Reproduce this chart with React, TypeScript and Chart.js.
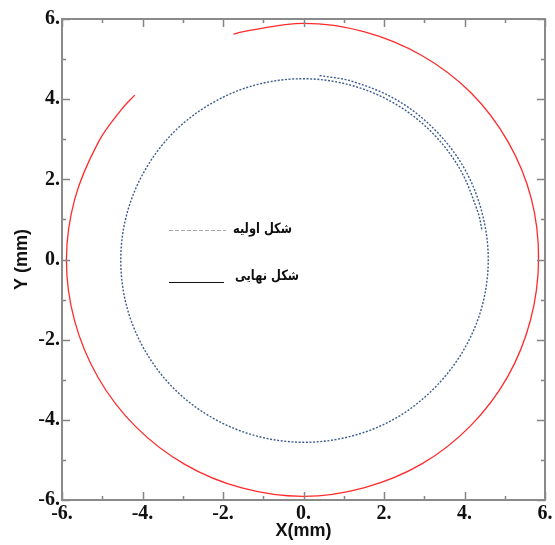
import { useEffect, useRef } from "react";
import { Chart, registerables } from "chart.js";

Chart.register(...registerables);

// Final shape (red, solid)
const finalX = [-4.19, -4.50, -5.09, -5.68, -5.89, -5.69, -5.10, -4.17, -2.95, -1.53, 0, 1.52, 2.94, 4.15, 5.07, 5.64, 5.84, 5.66, 5.08, 4.16, 2.94, 1.52, 0, -1.52, -1.74];
const finalY = [4.10, 3.77, 2.94, 1.52, 0, -1.52, -2.95, -4.17, -5.11, -5.70, -5.91, -5.69, -5.10, -4.15, -2.93, -1.51, 0, 1.52, 2.94, 4.16, 5.09, 5.68, 5.89, 5.68, 5.62];

// Initial shape (blue, dotted spiral)
const initX = [0.40, 1.19, 2.30, 3.25, 3.98, 4.43, 4.59, 4.43, 3.96, 3.23, 2.29, 1.18, 0, -1.18, -2.28, -3.22, -3.94, -4.39, -4.54, -4.38, -3.92, -3.20, -2.26, -1.17, 0, 1.17, 2.25, 3.18, 3.89, 4.34, 4.43];
const initY = [4.59, 4.45, 3.99, 3.25, 2.30, 1.19, 0, -1.19, -2.29, -3.23, -3.96, -4.41, -4.56, -4.40, -3.94, -3.22, -2.27, -1.18, 0, 1.17, 2.26, 3.20, 3.91, 4.36, 4.51, 4.35, 3.90, 3.18, 2.25, 1.16, 0.75];

const axisMin = -6;
const axisMax = 6;
const majorEvery = 2;
const legendLabels = ["شکل اولیه", "شکل نهایی"];
const xTitle = "X(mm)";
const yTitle = "Y (mm)";

const tickFont = { family: "'Liberation Serif', 'DejaVu Serif', serif", size: 20, weight: "bold" as const };
const tickLabel = (v: number | string) => {
  const n = Number(v);
  return n % majorEvery === 0 ? `${n}.` : "";
};

function fitText(ctx: CanvasRenderingContext2D, text: string, right: number, y: number, width: number) {
  const w = ctx.measureText(text).width;
  const k = Math.min(1, width / w);
  ctx.save();
  ctx.translate(right, y);
  ctx.scale(k, 1);
  ctx.fillText(text, 0, 0);
  ctx.restore();
}

const framePlugin = {
  id: "frame",
  afterDraw(chart: any) {
    const { ctx, chartArea: a, scales } = chart;
    const xs = scales.x;
    const ys = scales.y;
    ctx.save();
    // tick marks, pointing inward on all four sides
    ctx.strokeStyle = "#858585";
    ctx.lineWidth = 1.5;
    xs.ticks.forEach((t: any) => {
      const px = Math.round(xs.getPixelForValue(t.value)) + 0.5;
      const len = t.value % majorEvery === 0 ? 8 : 4;
      ctx.beginPath();
      ctx.moveTo(px, a.bottom);
      ctx.lineTo(px, a.bottom - len);
      ctx.moveTo(px, a.top);
      ctx.lineTo(px, a.top + len);
      ctx.stroke();
    });
    ys.ticks.forEach((t: any) => {
      const py = Math.round(ys.getPixelForValue(t.value)) + 0.5;
      const len = t.value % majorEvery === 0 ? 8 : 4;
      ctx.beginPath();
      ctx.moveTo(a.left, py);
      ctx.lineTo(a.left + len, py);
      ctx.moveTo(a.right, py);
      ctx.lineTo(a.right - len, py);
      ctx.stroke();
    });
    // frame
    ctx.strokeStyle = "#8a8a8a";
    ctx.lineWidth = 2;
    ctx.strokeRect(a.left, a.top, a.right - a.left, a.bottom - a.top);

    // axis titles
    ctx.fillStyle = "#111";
    ctx.font = "bold 18px 'Liberation Sans', Arial, sans-serif";
    ctx.textAlign = "center";
    ctx.textBaseline = "middle";
    ctx.fillText(xTitle, (a.left + a.right) / 2, 531);
    ctx.save();
    ctx.translate(22, (a.top + a.bottom) / 2);
    ctx.rotate(-Math.PI / 2);
    ctx.fillText(yTitle, 0, 0);
    ctx.restore();

    // legend
    ctx.font = "bold 14px 'DejaVu Sans', sans-serif";
    ctx.textAlign = "right";
    ctx.fillStyle = "#111";
    fitText(ctx, legendLabels[0], 292, 229, 59);
    fitText(ctx, legendLabels[1], 299, 276, 64);
    ctx.strokeStyle = "#a8a8a8";
    ctx.lineWidth = 1.2;
    ctx.setLineDash([4, 2]);
    ctx.beginPath();
    ctx.moveTo(169, 230.5);
    ctx.lineTo(226, 230.5);
    ctx.stroke();
    ctx.setLineDash([]);
    ctx.strokeStyle = "#111";
    ctx.beginPath();
    ctx.moveTo(169, 282.5);
    ctx.lineTo(224, 282.5);
    ctx.stroke();
    ctx.restore();
  },
};

export default function App() {
  const ref = useRef<HTMLCanvasElement>(null);
  useEffect(() => {
    if (!ref.current) return;
    const chart = new Chart(ref.current, {
      type: "scatter",
      data: {
        datasets: [
          {
            label: legendLabels[0],
            data: initX.map((x, i) => ({ x, y: initY[i] })),
            showLine: true,
            borderColor: "#3d5d8f",
            borderWidth: 1.4,
            borderDash: [2, 1.6],
            pointRadius: 0,
            tension: 0.34,
            fill: false,
          },
          {
            label: legendLabels[1],
            data: finalX.map((x, i) => ({ x, y: finalY[i] })),
            showLine: true,
            borderColor: "#ff2a2a",
            borderWidth: 1.3,
            pointRadius: 0,
            tension: 0.34,
            fill: false,
          },
        ],
      },
      options: {
        animation: false,
        responsive: false,
        devicePixelRatio: 1,
        layout: { padding: { top: 19, right: 10, left: 0, bottom: 0 } },
        plugins: { legend: { display: false }, tooltip: { enabled: false } },
        scales: {
          x: {
            type: "linear",
            min: axisMin,
            max: axisMax,
            grid: { display: false, drawTicks: false },
            border: { display: false },
            ticks: { stepSize: 1, autoSkip: false, maxRotation: 0, padding: 2, color: "#111", font: tickFont, callback: tickLabel },
            afterFit: (s: any) => { s.height = 45; },
          },
          y: {
            type: "linear",
            min: axisMin,
            max: axisMax,
            grid: { display: false, drawTicks: false },
            border: { display: false },
            ticks: { stepSize: 1, autoSkip: false, padding: 2, color: "#111", font: tickFont, callback: tickLabel },
            afterFit: (s: any) => { s.width = 62; },
          },
        },
      },
      plugins: [framePlugin],
    });
    return () => chart.destroy();
  }, []);
  return (
    <div style={{ position: "fixed", left: 0, top: 0, width: 555, height: 545, background: "#fff" }}>
      <canvas ref={ref} width={555} height={545} />
    </div>
  );
}
